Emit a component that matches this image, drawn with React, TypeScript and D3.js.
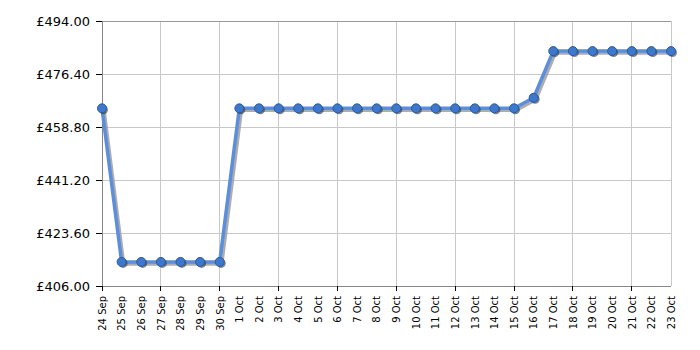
import React from "react";
import * as d3 from "d3";

const dates = [
  "24 Sep", "25 Sep", "26 Sep", "27 Sep", "28 Sep", "29 Sep", "30 Sep",
  "1 Oct", "2 Oct", "3 Oct", "4 Oct", "5 Oct", "6 Oct", "7 Oct", "8 Oct",
  "9 Oct", "10 Oct", "11 Oct", "12 Oct", "13 Oct", "14 Oct", "15 Oct",
  "16 Oct", "17 Oct", "18 Oct", "19 Oct", "20 Oct", "21 Oct", "22 Oct", "23 Oct",
];
const prices = [
  465, 414, 414, 414, 414, 414, 414,
  465, 465, 465, 465, 465, 465, 465, 465,
  465, 465, 465, 465, 465, 465, 465,
  468.5, 484, 484, 484, 484, 484, 484, 484,
];
const yTicks = [406, 423.6, 441.2, 458.8, 476.4, 494];

const W = 700, H = 350;
const L = 102, R = 671, T = 21, B = 286;

export default function App() {
  const x = d3.scalePoint<string>().domain(dates).range([L, R]);
  const y = d3.scaleLinear().domain([406, 494]).range([B, T]);
  const data = dates.map((d, i) => ({ d, v: prices[i] }));
  const line = d3.line<{ d: string; v: number }>().x(p => x(p.d)!).y(p => y(p.v));
  const path = line(data)!;
  const gridIdx = dates.map((_, i) => i).filter(i => i % 3 === 0 && i > 0);
  return (
    <svg width={W} height={H} style={{ position: "absolute", left: 0, top: 0 }} fontFamily="Verdana, 'DejaVu Sans', sans-serif">
      <rect x={0} y={0} width={W} height={H} fill="#fff" />
      {yTicks.map(t => (
        <line key={"h" + t} x1={L} x2={R} y1={y(t)} y2={y(t)} stroke="#c8c8c8" strokeWidth={1} shapeRendering="crispEdges" />
      ))}
      {gridIdx.map(i => (
        <line key={"v" + i} x1={x(dates[i])} x2={x(dates[i])} y1={T} y2={B} stroke="#c8c8c8" strokeWidth={1} shapeRendering="crispEdges" />
      ))}
      <line x1={L} x2={R} y1={T} y2={T} stroke="#999" shapeRendering="crispEdges" />
      <line x1={R} x2={R} y1={T} y2={B} stroke="#c8c8c8" shapeRendering="crispEdges" />
      <line x1={L} x2={L} y1={T} y2={B} stroke="#888" shapeRendering="crispEdges" />
      <line x1={L} x2={R} y1={B} y2={B} stroke="#888" shapeRendering="crispEdges" />
      {yTicks.map(t => (
        <g key={"yt" + t}>
          <line x1={L - 6} x2={L} y1={y(t)} y2={y(t)} stroke="#000" shapeRendering="crispEdges" />
          <text x={L - 12} y={y(t)} dy="0.35em" textAnchor="end" fontSize={13} fill="#000">
            {"£" + t.toFixed(2)}
          </text>
        </g>
      ))}
      {[0, ...gridIdx].map(i => (
        <line key={"xt" + i} x1={x(dates[i])} x2={x(dates[i])} y1={B} y2={B + 5} stroke="#000" shapeRendering="crispEdges" />
      ))}
      {dates.map(d => (
        <text key={"xl" + d} transform={`translate(${x(d)! + 3.8},${B + 10}) rotate(-90)`} textAnchor="end" fontSize={10} fill="#000">
          {d}
        </text>
      ))}
      <path d={path} fill="none" stroke="#999" strokeWidth={3.5} transform="translate(2,2)" strokeLinejoin="round" opacity={0.8} />
      <path d={path} fill="none" stroke="#5b8fdc" strokeWidth={3.5} strokeLinejoin="round" />
      {data.map(p => (
        <circle key={"s" + p.d} cx={x(p.d)! + 1.5} cy={y(p.v) + 1.5} r={4.5} fill="#333" opacity={0.6} />
      ))}
      {data.map(p => (
        <circle key={"c" + p.d} cx={x(p.d)} cy={y(p.v)} r={4.5} fill="#3d78cc" stroke="#2a5a9e" strokeWidth={1} />
      ))}
    </svg>
  );
}
